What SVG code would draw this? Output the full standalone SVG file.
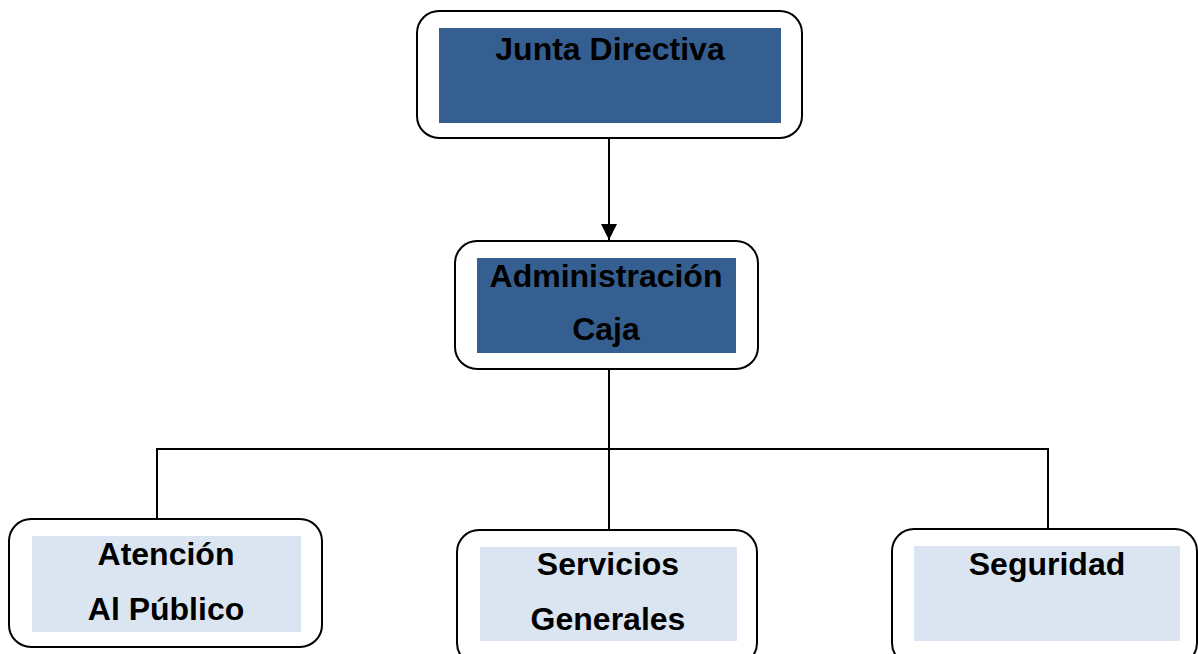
<svg xmlns="http://www.w3.org/2000/svg" width="1198" height="654" viewBox="0 0 1198 654">
<defs>
<style>
.outer{fill:#fff;stroke:#000;stroke-width:2}
.dark{fill:#365F91}
.light{fill:#DBE5F1}
.t{font-family:"Liberation Sans",Arial,sans-serif;font-weight:bold;font-size:32px;fill:#000;text-anchor:middle}
.c{stroke:#000;stroke-width:2;fill:none}
</style>
<marker id="ah" viewBox="0 0 10 10" refX="10" refY="5" markerWidth="8" markerHeight="8" markerUnits="strokeWidth" orient="auto">
<path d="M0,0 L10,5 L0,10 z" fill="#000"/>
</marker>
</defs>
<rect width="1198" height="654" fill="#fff"/>
<g id="connectors">
<line class="c" x1="609" y1="139" x2="609" y2="240" marker-end="url(#ah)"/>
<line class="c" x1="609" y1="369" x2="609" y2="530"/>
<line class="c" x1="157" y1="449" x2="1049" y2="449"/>
<line class="c" x1="157" y1="448" x2="157" y2="520"/>
<line class="c" x1="1048" y1="448" x2="1048" y2="529"/>
</g>
<g id="junta">
<rect class="outer" x="417" y="11" width="385" height="127" rx="22"/>
<rect class="dark" x="439" y="28" width="342" height="95"/>
<text class="t" x="610" y="60">Junta Directiva</text>
</g>
<g id="admin">
<rect class="outer" x="455" y="241" width="303" height="128" rx="22"/>
<rect class="dark" x="477" y="258" width="259" height="95"/>
<text class="t" x="606" y="287">Administración</text>
<text class="t" x="606" y="340">Caja</text>
</g>
<g id="atencion">
<rect class="outer" x="9" y="519" width="313" height="128" rx="22"/>
<rect class="light" x="32" y="536" width="269" height="96"/>
<text class="t" x="166" y="565">Atención</text>
<text class="t" x="166" y="620">Al Público</text>
</g>
<g id="servicios">
<rect class="outer" x="457" y="530" width="300" height="135" rx="22"/>
<rect class="light" x="480" y="547" width="257" height="94"/>
<text class="t" x="608" y="575">Servicios</text>
<text class="t" x="608" y="630">Generales</text>
</g>
<g id="seguridad">
<rect class="outer" x="892" y="529" width="305" height="136" rx="22"/>
<rect class="light" x="914" y="546" width="266" height="95"/>
<text class="t" x="1047" y="575">Seguridad</text>
</g>
</svg>
